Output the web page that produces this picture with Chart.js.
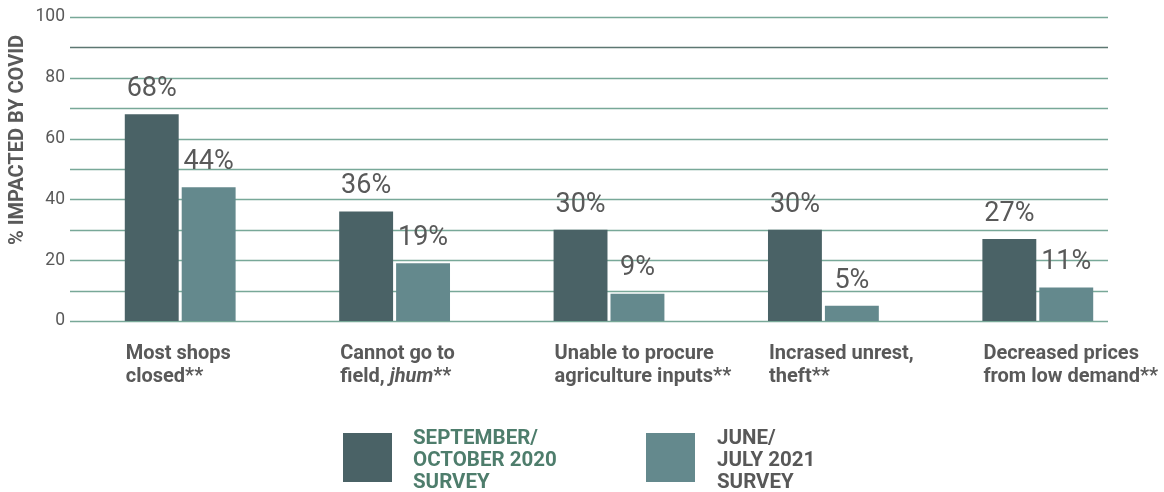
<!DOCTYPE html>
<html>
<head>
<meta charset="utf-8">
<script src="https://cdn.jsdelivr.net/npm/chart.js@4/dist/chart.umd.min.js"></script>
<style>
  html, body { margin: 0; padding: 0; background: #fff; }
  #wrap { position: relative; width: 1164px; height: 492px; font-family: Roboto, "Liberation Sans", sans-serif; }
  canvas { position: absolute; left: 0; top: 0; }
  .lg-box { position: absolute; width: 49px; height: 49px; }
  .lg-text { position: absolute; font-weight: 700; font-size: 20.5px; line-height: 22px; }
</style>
</head>
<body>
<div id="wrap">
  <canvas id="c" width="1164" height="492"></canvas>
  <div class="lg-box" style="left:343px; top:433px; background:#4a6266;"></div>
  <div class="lg-text" id="lg1" style="left:413px; top:426px; color:#4e7d6c;"></div>
  <div class="lg-box" style="left:646px; top:433px; background:#64898d;"></div>
  <div class="lg-text" id="lg2" style="left:717px; top:426px; color:#585858;"></div>
</div>
<script>
const categories = [
  ["Most shops", "closed**"],
  ["Cannot go to", "field, _jhum_**"],
  ["Unable to procure", "agriculture inputs**"],
  ["Incrased unrest,", "theft**"],
  ["Decreased prices", "from low demand**"]
];
const seriesNames = [
  ["SEPTEMBER/", "OCTOBER 2020", "SURVEY"],
  ["JUNE/", "JULY 2021", "SURVEY"]
];
const sep2020 = [68, 36, 30, 30, 27];
const jul2021 = [44, 19, 9, 5, 11];
const yTicks = [0, 20, 40, 60, 80, 100];
const yTitle = "% IMPACTED BY COVID";

document.getElementById('lg1').innerHTML = seriesNames[0].join('<br>');
document.getElementById('lg2').innerHTML = seriesNames[1].join('<br>');

const FONT = 'Roboto, "Liberation Sans", sans-serif';

const gridPlugin = {
  id: 'gridPlugin',
  beforeDatasetsDraw(chart) {
    const ctx = chart.ctx, y = chart.scales.y;
    ctx.save();
    for (let v = 0; v <= 100; v += 10) {
      const py = Math.round(y.getPixelForValue(v)) + 0.5;
      ctx.strokeStyle = (v === 90) ? '#5d7772' : '#78a898';
      ctx.lineWidth = 1.3;
      ctx.beginPath();
      ctx.moveTo(70, py);
      ctx.lineTo(1108, py);
      ctx.stroke();
    }
    ctx.fillStyle = '#595959';
    ctx.font = '17.5px ' + FONT;
    ctx.textAlign = 'right';
    ctx.textBaseline = 'middle';
    yTicks.forEach(t => ctx.fillText(String(t), 65, y.getPixelForValue(t)));
    ctx.save();
    ctx.translate(18, 140);
    ctx.rotate(-Math.PI / 2);
    ctx.font = 'bold 20px ' + FONT;
    ctx.textAlign = 'center';
    ctx.textBaseline = 'middle';
    ctx.fillStyle = '#595959';
    ctx.fillText(yTitle, 0, 0);
    ctx.restore();
    ctx.restore();
  },
  afterDatasetsDraw(chart) {
    const ctx = chart.ctx;
    ctx.save();
    ctx.font = '27px ' + FONT;
    ctx.fillStyle = '#595959';
    ctx.textAlign = 'center';
    ctx.textBaseline = 'middle';
    chart.data.datasets.forEach((ds, di) => {
      const meta = chart.getDatasetMeta(di);
      meta.data.forEach((bar, i) => {
        ctx.fillText(ds.data[i] + '%', bar.x, bar.y - 25);
      });
    });
    const meta0 = chart.getDatasetMeta(0);
    ctx.textAlign = 'left';
    ctx.textBaseline = 'middle';
    categories.forEach((lines, i) => {
      const bar = meta0.data[i];
      const x0 = bar.x - bar.width / 2 + 1;
      lines.forEach((line, li) => {
        const yy = 354 + li * 23;
        let x = x0;
        const parts = line.split('_');
        parts.forEach((p, pi) => {
          ctx.font = (pi % 2 === 1 ? 'italic ' : '') + 'bold 20px ' + FONT;
          ctx.fillText(p, x, yy);
          x += ctx.measureText(p).width;
        });
      });
    });
    ctx.restore();
  }
};

new Chart(document.getElementById('c'), {
  type: 'bar',
  data: {
    labels: categories.map(c => c.join(' ')),
    datasets: [
      { label: seriesNames[0].join(' '), data: sep2020, backgroundColor: '#4a6266',
        categoryPercentage: 0.531, barPercentage: 0.947 },
      { label: seriesNames[1].join(' '), data: jul2021, backgroundColor: '#64898d',
        categoryPercentage: 0.531, barPercentage: 0.947 }
    ]
  },
  options: {
    responsive: false,
    animation: false,
    layout: { padding: { top: 17, bottom: 171, left: 73, right: 19 } },
    plugins: { legend: { display: false }, tooltip: { enabled: false } },
    scales: {
      x: { display: false },
      y: { display: false, min: 0, max: 100 }
    }
  },
  plugins: [gridPlugin]
});
</script>
</body>
</html>
